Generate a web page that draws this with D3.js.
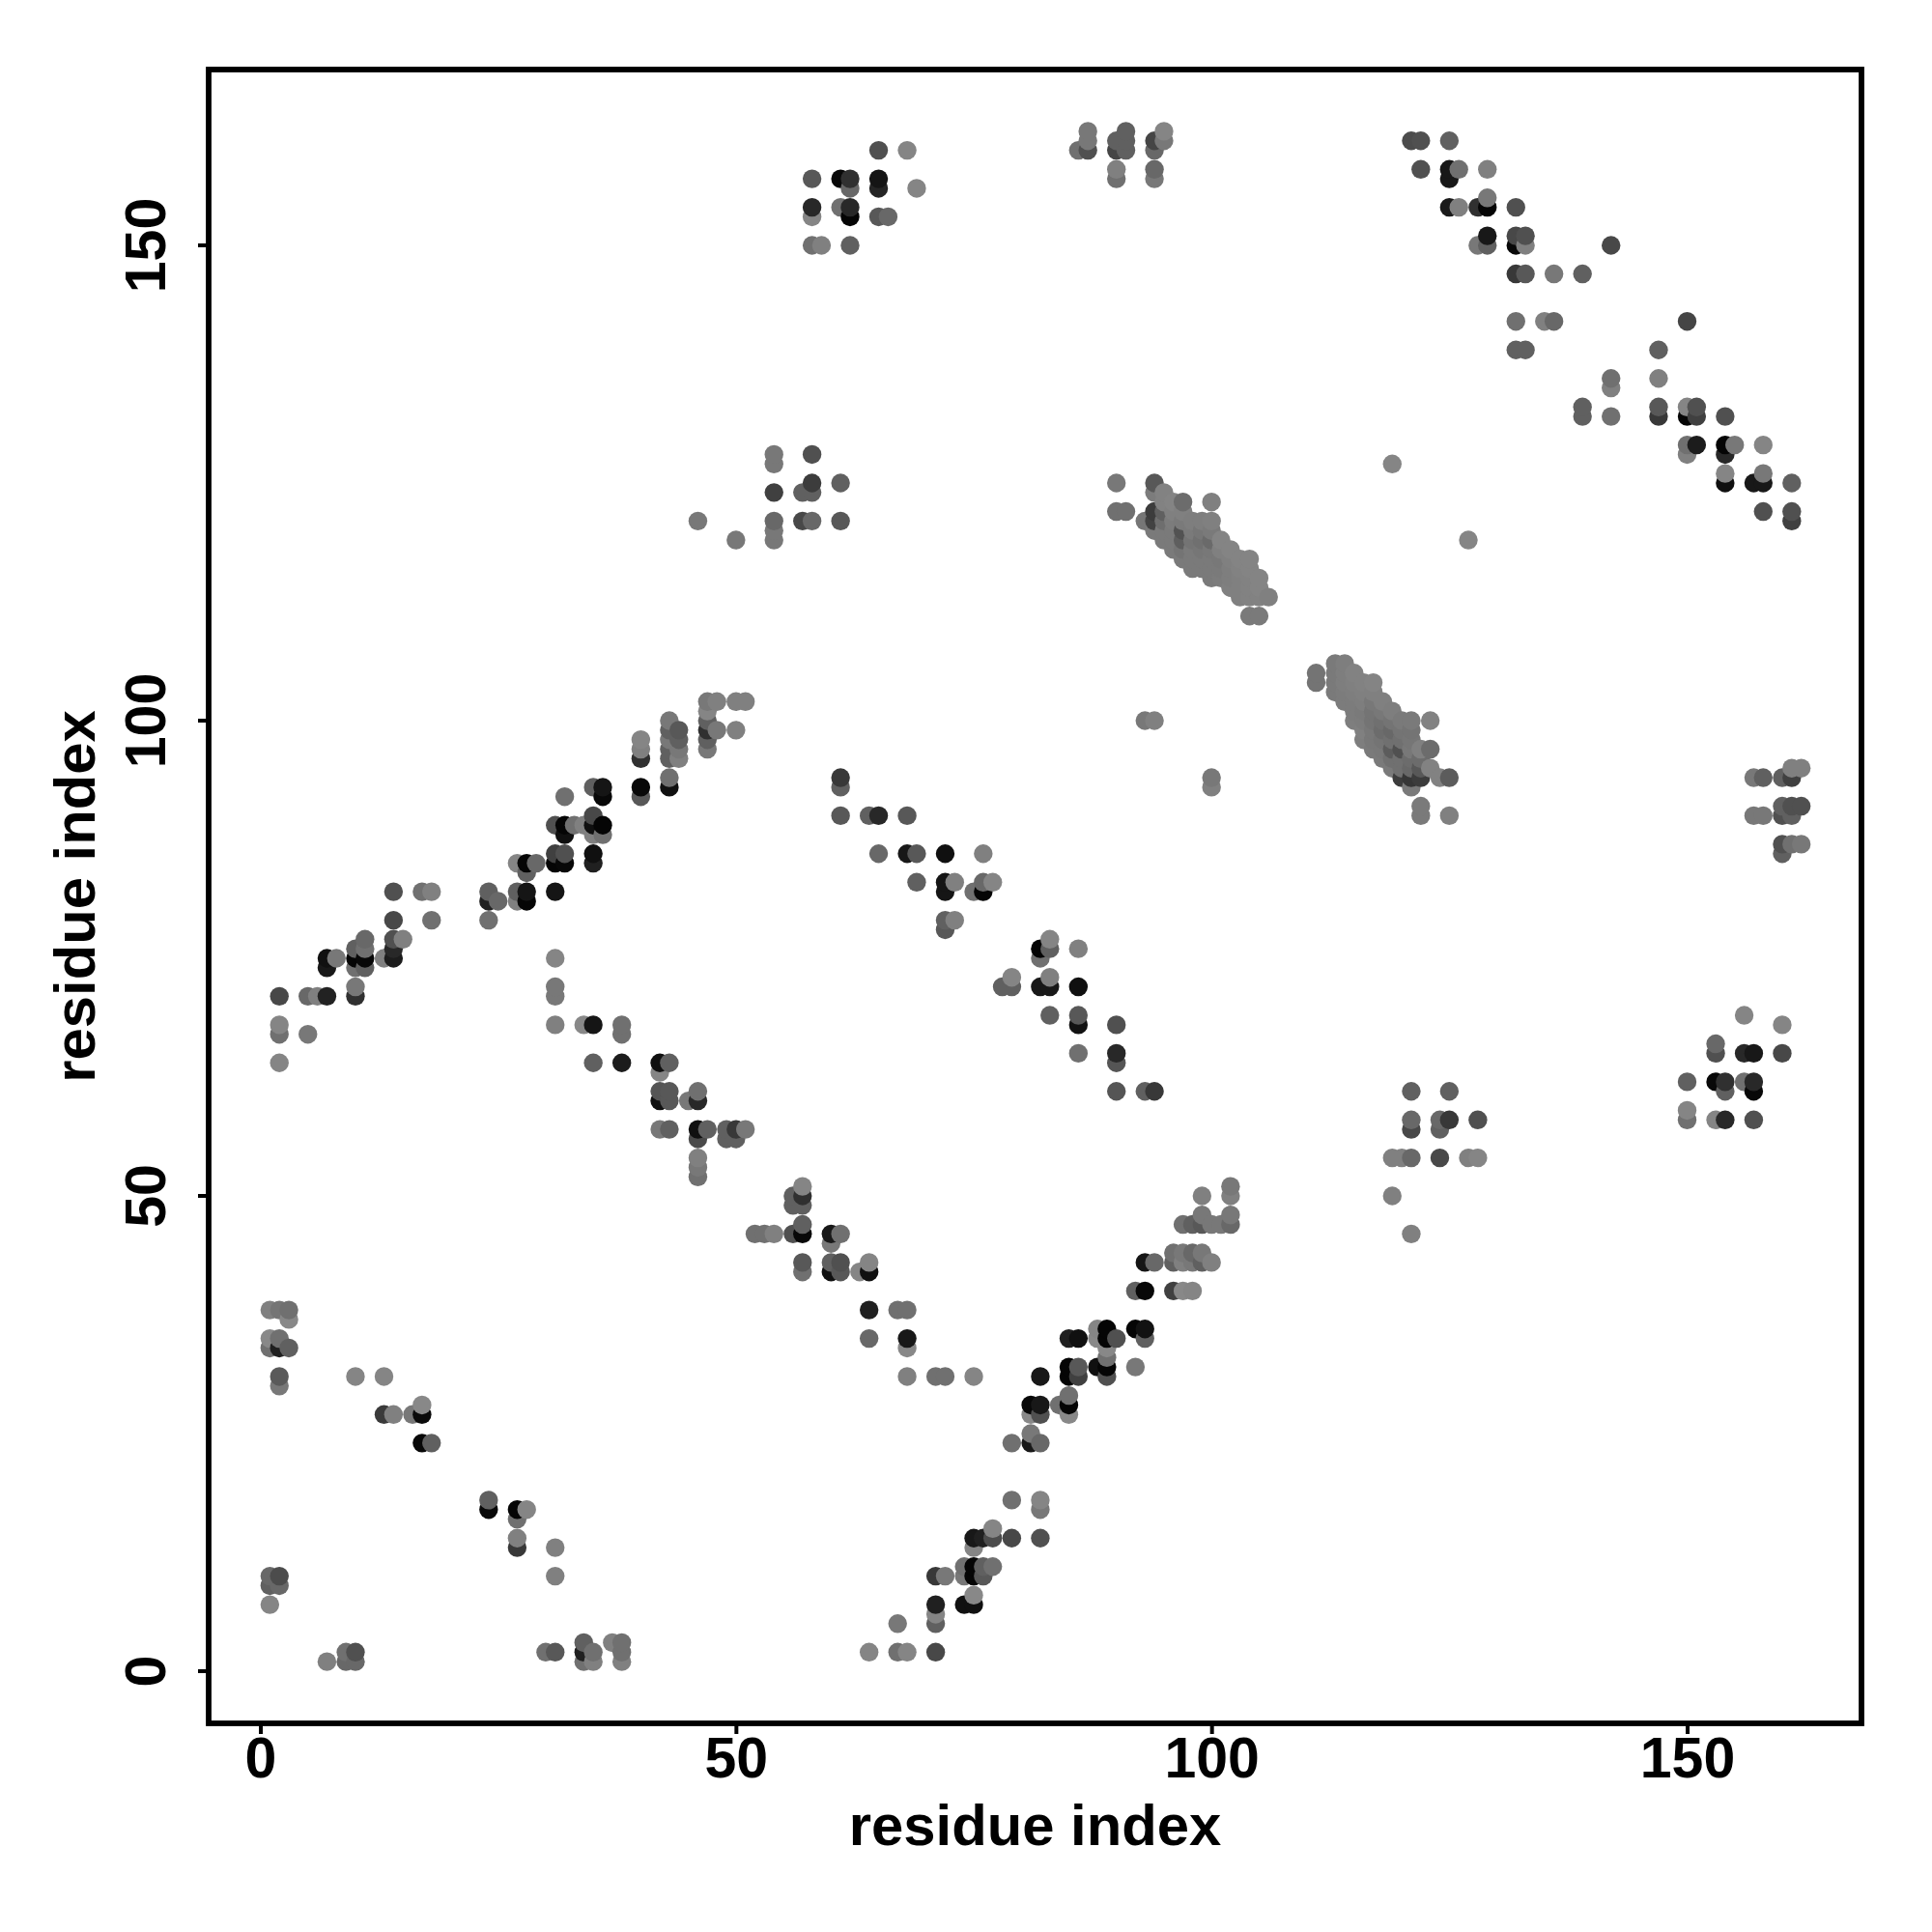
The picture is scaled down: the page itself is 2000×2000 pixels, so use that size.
<!DOCTYPE html>
<html><head><meta charset="utf-8"><script src="https://cdn.jsdelivr.net/npm/d3@7"></script>
<style>html,body{margin:0;background:#fff}svg{display:block}text{font-family:"Liberation Sans",Arial,sans-serif;font-weight:bold;fill:#000}</style></head>
<body><div id="c"></div><script>
// [residue i, residue j, grey level]
const contactsLowerLeft=[[1,38,128],[2,38,117],[3,38,112],[3,37,136],[1,35,136],[1,34,112],[2,35,112],[2,34,32],[3,34,96],[2,31,90],[2,30,120],[10,31,133],[13,31,133],[13,27,58],[14,27,128],[16,27,120],[17,28,136],[17,27,10],[17,24,8],[18,24,96],[24,18,96],[24,17,8],[27,17,5],[27,16,112],[28,17,133],[27,14,128],[27,13,56],[31,13,128],[31,10,128],[1,10,104],[2,10,76],[1,9,96],[2,9,104],[1,7,133],[7,1,128],[9,2,112],[9,1,104],[10,2,80],[10,1,104],[30,2,112],[31,2,88],[34,3,96],[34,2,32],[34,1,112],[35,2,112],[35,1,128],[37,3,128],[38,3,112],[38,2,112],[38,1,128]];
const contactsLowerMiddle=[[63,42,133],[64,43,133],[64,42,16],[64,38,32],[67,38,112],[68,38,112],[64,35,104],[68,35,24],[68,34,136],[68,31,128],[71,31,112],[72,31,112],[75,31,133],[67,5,120],[71,7,32],[71,6,133],[71,5,96],[64,2,133],[67,2,112],[68,2,133],[71,2,72],[52,46,112],[53,46,112],[54,46,128],[56,46,80],[57,46,8],[57,47,96],[60,46,24],[61,46,112],[60,45,120],[57,43,88],[57,42,112],[60,43,96],[60,42,16],[61,43,80],[61,42,88],[57,51,133],[57,50,48],[56,50,96],[56,49,96],[57,49,96],[46,61,112],[46,60,40],[45,60,120],[46,57,16],[46,56,74],[47,57,96],[49,57,96],[49,56,96],[50,57,56],[50,56,96],[51,57,120],[46,54,128],[46,53,120],[46,52,112],[42,64,16],[43,64,96],[42,63,133],[42,61,85],[43,61,88],[42,60,16],[43,60,88],[42,57,120],[43,57,96]];
const contactsLowerRising=[[93,43,21],[94,43,104],[96,44,112],[97,44,120],[98,44,104],[99,44,120],[96,43,96],[97,43,128],[98,43,120],[99,43,96],[100,43,128],[92,40,96],[93,40,8],[96,40,64],[97,40,136],[98,40,133],[92,36,5],[93,36,18],[93,35,96],[85,35,32],[86,35,16],[88,36,133],[88,35,136],[89,36,5],[89,35,5],[90,35,80],[89,34,136],[89,33,112],[88,32,16],[89,32,5],[89,31,80],[92,32,120],[85,32,5],[85,31,5],[86,32,88],[86,31,64],[81,28,8],[82,28,24],[81,27,136],[82,27,80],[84,28,112],[85,29,112],[85,28,5],[85,27,136],[82,31,24],[81,25,120],[81,24,24],[82,24,104],[79,24,112],[79,18,112],[82,18,133],[82,17,120],[75,14,24],[76,14,32],[77,14,76],[77,15,133],[75,13,133],[79,14,72],[82,14,80],[74,11,112],[75,11,5],[76,11,96],[77,11,112],[71,10,56],[72,10,120],[74,10,120],[75,10,5],[76,10,88],[74,7,16],[75,7,16],[75,8,136],[97,47,112],[98,47,96],[99,47,88],[99,48,120],[99,50,128],[100,47,120],[101,47,120],[102,47,104],[102,48,120],[102,50,128],[102,51,120]];
const contactsUpperRising=[[2,64,133],[2,68,133],[2,67,112],[5,67,120],[2,71,72],[5,71,104],[6,71,128],[7,71,34],[10,71,48],[10,72,120],[7,75,16],[7,74,24],[8,75,120],[10,76,96],[10,75,5],[10,74,112],[11,77,104],[11,76,112],[11,75,8],[11,74,96],[13,75,128],[14,75,28],[14,76,40],[14,77,80],[15,77,128],[14,79,72],[18,79,112],[14,82,80],[17,82,112],[18,82,128],[24,82,96],[24,81,32],[25,81,104],[24,79,112],[27,82,96],[27,81,128],[28,82,21],[28,81,5],[31,82,21],[27,85,133],[28,85,5],[28,84,96],[29,85,104],[31,86,64],[31,85,5],[32,86,80],[32,85,8],[35,86,16],[35,85,32],[31,89,80],[32,89,5],[32,88,16],[33,89,112],[34,89,128],[35,90,72],[35,89,16],[35,88,128],[36,89,5],[36,88,112],[32,92,112],[35,93,96],[36,93,21],[36,92,8],[40,93,8],[40,92,88],[43,94,112],[43,93,16],[40,98,133],[40,97,128],[40,96,48],[43,100,120],[43,99,96],[43,98,120],[43,97,96],[43,96,96],[44,99,88],[44,98,96],[44,97,120],[44,96,128],[47,102,120],[47,101,133],[47,100,96],[47,99,48],[47,98,96],[47,97,120],[48,102,128],[48,99,120],[50,102,128],[51,102,128],[50,99,128]];
const contactsLeftColumn=[[31,75,133],[31,72,120],[31,71,120],[31,68,128],[34,68,136],[35,68,21],[38,68,112],[38,67,112],[35,64,96],[38,64,28]];
const contactsMiddleFalling=[[61,94,56],[61,93,96],[61,90,88],[64,90,96],[65,90,40],[68,90,88],[65,86,104],[68,86,24],[69,86,88],[72,86,16],[76,86,128],[69,83,96],[72,83,21],[72,82,21],[73,83,128],[75,82,112],[76,83,104],[76,82,5],[77,83,133],[72,79,96],[72,78,88],[73,79,128],[82,76,5],[82,75,112],[83,77,133],[83,76,96],[86,76,128],[78,72,96],[79,72,96],[79,73,133],[82,72,24],[83,72,24],[83,73,128],[86,72,16],[83,69,96],[86,69,88],[86,68,18],[86,65,112],[90,68,80],[90,65,40],[90,64,85],[90,61,85],[93,61,96],[94,61,56]];
const contactsLowerRight=[[121,61,96],[125,61,96],[121,58,104],[121,57,72],[124,58,104],[124,57,96],[125,58,56],[128,58,80],[119,54,128],[120,54,128],[121,54,104],[124,54,72],[127,54,128],[128,54,133],[119,50,128],[121,46,128],[156,69,133],[160,68,133],[153,66,104],[153,65,80],[156,65,40],[157,65,24],[160,65,72],[150,62,96],[153,62,8],[154,62,48],[154,61,96],[156,62,112],[157,62,40],[157,61,8],[150,59,133],[150,58,112],[153,58,133],[154,58,40],[157,58,80]];
const contactsUpperFalling=[[121,161,76],[122,161,80],[125,161,96],[122,158,80],[125,158,24],[125,157,24],[126,158,112],[129,158,128],[125,154,26],[126,154,128],[128,154,48],[129,154,5],[129,155,120],[132,154,80],[129,151,24],[128,150,120],[129,150,96],[132,151,72],[132,150,8],[133,151,80],[133,150,128],[142,150,72],[132,147,56],[133,147,88],[136,147,120],[139,147,96],[132,142,112],[135,142,128],[136,142,104],[150,142,69],[132,139,96],[133,139,96],[147,139,96],[142,136,112],[142,135,128],[147,136,128],[139,133,96],[139,132,96],[142,132,112],[147,133,88],[147,132,56],[150,133,133],[150,132,5],[151,133,80],[151,132,64],[154,132,80],[150,129,112],[150,128,128],[151,129,28],[154,129,5],[154,128,40],[155,129,120],[158,129,133],[119,127,133],[154,126,133],[154,125,16],[157,125,24],[158,125,24],[158,126,120],[161,125,96],[158,122,80],[161,122,80],[161,121,64],[127,119,133]];
const contactsTopBlocks=[[65,160,80],[68,160,133],[58,157,88],[61,157,8],[62,157,48],[62,156,104],[65,157,21],[65,156,37],[69,156,133],[58,154,40],[58,153,133],[61,154,112],[62,154,40],[62,153,5],[65,153,88],[66,153,104],[58,150,112],[59,150,128],[62,150,96],[87,162,120],[87,161,120],[87,160,80],[86,160,112],[91,162,96],[91,161,96],[91,160,96],[90,161,96],[90,160,69],[90,158,128],[90,157,112],[94,161,69],[94,160,104],[95,162,133],[95,161,120],[94,158,104],[94,157,120]];
const contactsMiddleBlock=[[54,128,120],[54,127,120],[58,128,80],[54,124,64],[57,124,96],[58,124,96],[58,125,60],[61,125,96],[46,121,120],[50,119,120],[54,121,104],[54,120,120],[54,119,120],[57,121,72],[58,121,104],[61,121,88],[93,100,120],[94,100,128],[100,94,120],[100,93,128]];
const contactsRightBlock=[[157,94,120],[158,94,96],[160,94,96],[161,94,64],[161,95,128],[162,95,128],[157,90,120],[158,90,120],[160,91,96],[161,91,80],[162,91,80],[160,90,80],[161,90,96],[160,87,80],[161,87,112],[162,87,120],[160,86,96]];
const helixUpper=[[90,125,120],[90,122,112],[91,122,112],[94,125,88],[94,124,124],[95,124,130],[95,123,130],[96,123,132],[97,123,108],[100,123,128],[93,121,118],[94,122,60],[94,121,66],[94,120,122],[95,122,96],[95,121,110],[95,120,122],[95,119,122],[96,122,128],[96,121,124],[96,120,122],[96,119,122],[96,118,122],[97,122,128],[97,121,122],[97,120,82],[97,119,94],[97,118,116],[97,117,122],[98,121,126],[98,120,122],[98,119,116],[98,118,122],[98,117,122],[98,116,122],[99,121,126],[99,120,118],[99,119,112],[99,118,118],[99,117,122],[99,116,122],[100,121,128],[100,120,122],[100,119,106],[100,118,120],[100,117,122],[100,116,122],[100,115,122],[101,119,132],[101,118,128],[101,117,120],[101,116,122],[101,115,124],[102,118,132],[102,117,128],[102,116,126],[102,115,126],[102,114,128],[103,117,132],[103,116,130],[103,115,128],[103,114,128],[103,113,128],[104,117,132],[104,116,132],[104,115,130],[104,114,130],[104,113,130],[104,111,122],[105,115,132],[105,114,132],[105,113,130],[105,111,122],[106,113,128]];
const helixLower=[[111,105,116],[111,104,116],[113,106,122],[113,105,122],[113,104,122],[113,103,122],[114,106,126],[114,105,126],[114,104,126],[114,103,124],[114,102,124],[115,105,130],[115,104,128],[115,103,126],[115,102,124],[115,101,124],[115,100,126],[116,104,130],[116,103,128],[116,102,126],[116,101,122],[116,100,124],[116,99,128],[116,98,126],[117,104,132],[117,103,128],[117,102,120],[117,101,116],[117,100,116],[117,99,120],[117,98,120],[117,97,122],[118,102,128],[118,101,120],[118,100,112],[118,99,108],[118,98,116],[118,97,120],[118,96,122],[119,101,126],[119,100,116],[119,99,104],[119,98,112],[119,97,92],[119,96,112],[119,95,122],[120,100,122],[120,99,116],[120,98,112],[120,97,80],[120,96,112],[120,95,112],[120,94,60],[121,100,122],[121,99,116],[121,98,118],[121,97,120],[121,96,108],[121,95,104],[121,94,54],[121,93,122],[122,97,128],[122,96,108],[122,95,88],[122,94,60],[122,91,122],[122,90,122],[123,100,130],[123,97,108],[123,95,130],[124,94,130],[125,94,92],[125,90,128]];
const xTickValues=[0,50,100,150], yTickValues=[0,50,100,150];
const axisTitle="residue index";

const contacts=[contactsLowerLeft,contactsLowerMiddle,contactsLowerRising,contactsUpperRising,contactsLeftColumn,contactsMiddleFalling,contactsLowerRight,contactsUpperFalling,contactsTopBlocks,contactsMiddleBlock,contactsRightBlock,helixUpper,helixLower]
  .flat().sort((a,b)=>d3.ascending(a[0],b[0])||d3.ascending(a[1],b[1]));

const L=216,R=1927,T=72,B=1784;
const x=d3.scaleLinear().domain([0,150]).range([269.5,1746.5]);
const y=d3.scaleLinear().domain([0,150]).range([1730,254]);
const svg=d3.select("#c").append("svg").attr("width",2000).attr("height",2000);
svg.append("g").selectAll("circle").data(contacts).join("circle")
  .attr("cx",d=>x(d[0])).attr("cy",d=>y(d[1])).attr("r",9.7)
  .attr("fill",d=>d3.rgb(d[2],d[2],d[2]));
svg.append("rect").attr("x",L).attr("y",T).attr("width",R-L).attr("height",B-T)
  .attr("fill","none").attr("stroke","#000").attr("stroke-width",5.8);

const gx=svg.append("g").attr("transform",`translate(0,${B})`)
  .call(d3.axisBottom(x).tickValues(xTickValues).tickSize(11).tickPadding(0));
const gy=svg.append("g").attr("transform",`translate(${L},0)`)
  .call(d3.axisLeft(y).tickValues(yTickValues).tickSize(11).tickPadding(0));
gx.select(".domain").remove(); gy.select(".domain").remove();
gx.selectAll("line").attr("stroke","#000").attr("stroke-width",4);
gy.selectAll("line").attr("stroke","#000").attr("stroke-width",4);
gx.selectAll("text").attr("y",0).attr("dy",0).attr("transform","translate(0,56)")
  .attr("font-size",59).attr("font-family",'"Liberation Sans"').attr("font-weight","bold").attr("fill","#000");
gy.selectAll("text").attr("x",0).attr("dy",0).attr("text-anchor","middle")
  .attr("transform",d=>`translate(-45,${y(d)}) rotate(-90)`).attr("y",0)
  .attr("font-size",59).attr("font-family",'"Liberation Sans"').attr("font-weight","bold").attr("fill","#000");
gy.selectAll(".tick").attr("transform","translate(0,0)");
gy.selectAll(".tick line").attr("transform",d=>`translate(0,${y(d)})`);
svg.append("text").attr("x",(L+R)/2).attr("y",1910).attr("text-anchor","middle").attr("font-size",59.8).text(axisTitle);
svg.append("text").attr("transform",`translate(98,${(T+B)/2}) rotate(-90)`).attr("text-anchor","middle").attr("font-size",59.8).text(axisTitle);
</script></body></html>
